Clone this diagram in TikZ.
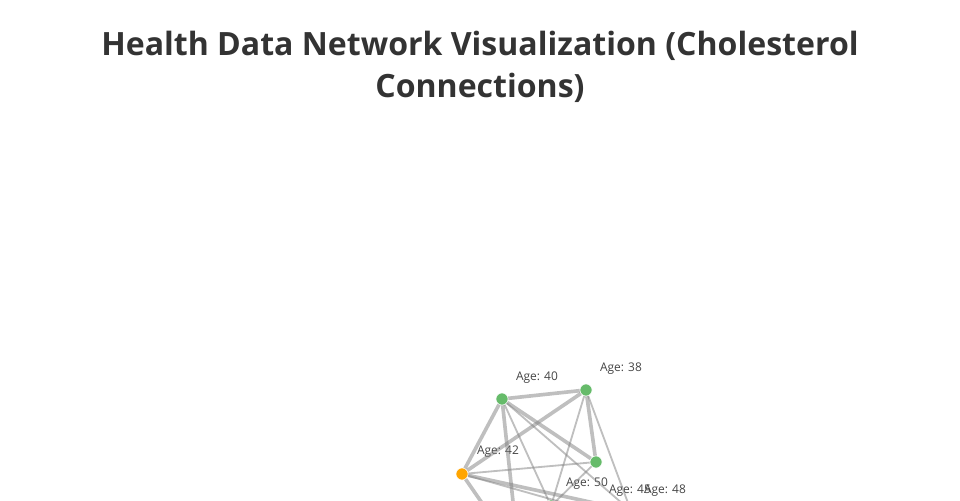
\documentclass[tikz,border=0pt]{standalone}
\usepackage{fontspec}
\setmainfont{Open Sans}
\usetikzlibrary{positioning}
\usepackage{xcolor}
\definecolor{titlegray}{HTML}{333333}
\definecolor{labelgray}{HTML}{444444}
\definecolor{nodegreen}{HTML}{66BB6A}
\definecolor{nodeorange}{HTML}{FFA500}

\begin{document}
\begin{tikzpicture}[
  x=0.025cm, y=-0.025cm,
  every node/.style={font=\fontsize{8.5}{10}\selectfont, text=labelgray},
  patient/.style={circle, fill=nodegreen, draw=white, line width=0.4pt, minimum size=8.6pt, inner sep=0pt},
  alert/.style={patient, fill=nodeorange},
  agetag/.style={inner sep=0pt},
  heavy/.style={draw=gray, draw opacity=0.5, line width=2.6pt},
  light/.style={draw=gray, draw opacity=0.5, line width=1.3pt}
]
\useasboundingbox (0,0) rectangle (960,500);
\clip (0,0) rectangle (960,500);

\node [font=\bfseries\fontsize{22.8}{29.9}\selectfont, text=titlegray, align=center] (title) at (480,67) {Health Data Network Visualization (Cholesterol\\Connections)};

\node [patient] (n40) at (502,399) {};
\node [patient] (n38) at (586,390) {};
\node [alert] (n42) at (462,474) {};
\node [patient] (nX) at (596,462) {};
\node [patient] (n50) at (551,506) {};
\node [patient] (n45) at (596,512) {};
\node [patient] (n48) at (631,511) {};
\node [patient] (nA) at (491,516) {};
\node [patient] (nB) at (515,520) {};

\node [agetag] (l40) at ([shift={(35,-21)}]n40) {Age: 40};
\node [agetag] (l38) at ([shift={(35,-21)}]n38) {Age: 38};
\node [agetag] (l42) at ([shift={(36,-22)}]n42) {Age: 42};
\node [agetag] (l50) at ([shift={(36,-22)}]n50) {Age: 50};
\node [agetag] (l45) at ([shift={(34,-21)}]n45) {Age: 45};
\node [agetag] (l48) at ([shift={(34,-20)}]n48) {Age: 48};

\draw [heavy] (n40) -- (n38);
\draw [heavy] (n40) -- (n42);
\draw [heavy] (n40) -- (nB);
\draw [heavy] (n38) -- (n42);
\draw [heavy] (n38) -- (nX);
\draw [heavy] (n40) -- (nX);
\draw [heavy] (n42) -- (nA);
\draw [heavy] (n42) -- (n48);
\draw [light] (n40) -- (n50);
\draw [light] (n38) -- (n50);
\draw [light] (n42) -- (nX);
\draw [light] (n38) -- (n48);
\draw [light] (n40) -- (n48);
\draw [light] (nX) -- (n50);
\draw [light] (n42) -- (n45);
\end{tikzpicture}
\end{document}
